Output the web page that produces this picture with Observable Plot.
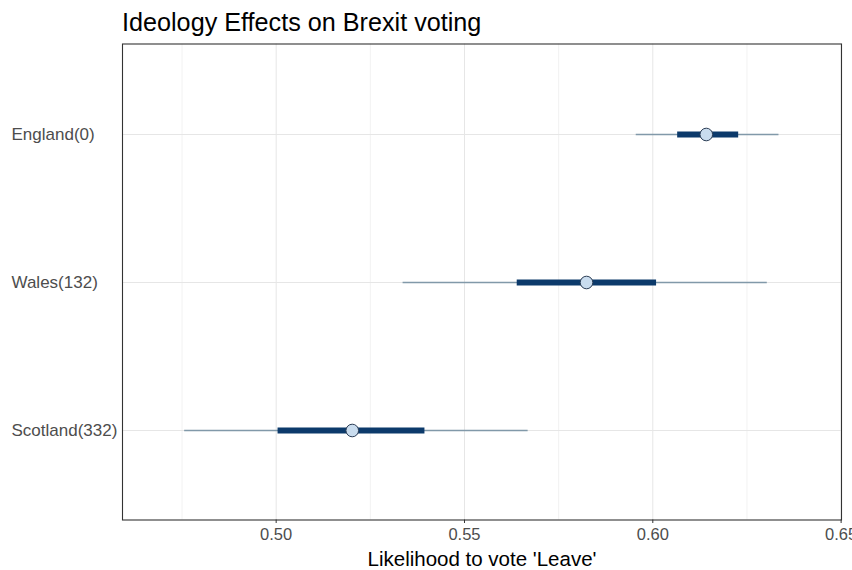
<!DOCTYPE html>
<html>
<head>
<meta charset="utf-8">
<script src="https://cdn.jsdelivr.net/npm/d3@7"></script>
<script src="https://cdn.jsdelivr.net/npm/@observablehq/plot@0.6"></script>
<style>
  html, body { margin: 0; padding: 0; background: #fff; }
  #title { height: 40px; box-sizing: border-box; padding-top: 5px; padding-left: 122px; line-height: 34px;
           font-family: "Liberation Sans", Arial, sans-serif; font-size: 25.2px; color: #000; white-space: nowrap; }
  svg { display: block; }
</style>
</head>
<body>
<div id="title">Ideology Effects on Brexit voting</div>
<div id="chart"></div>
<script>
const regions  = ["England(0)", "Wales(132)", "Scotland(332)"];
const estimate = [0.6142, 0.5824, 0.5202];
const outerLo  = [0.5956, 0.5337, 0.4757];
const outerHi  = [0.6335, 0.6304, 0.5669];
const innerLo  = [0.6066, 0.5640, 0.5005];
const innerHi  = [0.6228, 0.6010, 0.5395];
const majorTicks = [0.50, 0.55, 0.60, 0.65];
const minorTicks = [0.475, 0.525, 0.575, 0.625];
const xLabel = "Likelihood to vote 'Leave'";

const rows = regions.map((r, i) => ({
  region: r, est: estimate[i], lo: outerLo[i], hi: outerHi[i], ilo: innerLo[i], ihi: innerHi[i]
}));

const chart = Plot.plot({
  width: 852,
  height: 530,
  marginTop: 3.5,
  marginBottom: 50.5,
  marginLeft: 122,
  marginRight: 11,
  style: { fontFamily: "Liberation Sans, Arial, sans-serif", background: "#fff" },
  x: { domain: [0.4592, 0.6501] },
  y: { type: "point", domain: regions, padding: 0.6 },
  marks: [
    Plot.gridX(minorTicks, { stroke: "#f2f2f2", strokeOpacity: 1, strokeWidth: 1 }),
    Plot.gridX(majorTicks, { stroke: "#e6e6e6", strokeOpacity: 1, strokeWidth: 1 }),
    Plot.gridY(regions, { stroke: "#e6e6e6", strokeOpacity: 1, strokeWidth: 1 }),
    Plot.ruleY(rows, { y: "region", x1: "lo", x2: "hi", stroke: "#8199a9", strokeWidth: 1.3 }),
    Plot.ruleY(rows, { y: "region", x1: "ilo", x2: "ihi", stroke: "#0c3a6b", strokeWidth: 6 }),
    Plot.dot(rows, { x: "est", y: "region", r: 6.3, fill: "#c9dcee", stroke: "#2b3d55", strokeWidth: 1 }),
    Plot.frame({ stroke: "#333333", strokeWidth: 1.1 }),
    Plot.axisX({ ticks: majorTicks, tickFormat: ".2f", tickSize: 3.5, tickPadding: 5, fontSize: 16.5,
                 fill: "#4d4d4d", stroke: "#333333", label: null }),
    Plot.axisY({ tickSize: 0, tickPadding: 0, textAnchor: "start", dx: -111, fontSize: 17,
                 fill: "#4d4d4d", label: null }),
    Plot.text([xLabel], { frameAnchor: "bottom", lineAnchor: "middle", dy: 39.5, fontSize: 20.5, fill: "#000" })
  ]
});
document.getElementById("chart").append(chart);
</script>
</body>
</html>
